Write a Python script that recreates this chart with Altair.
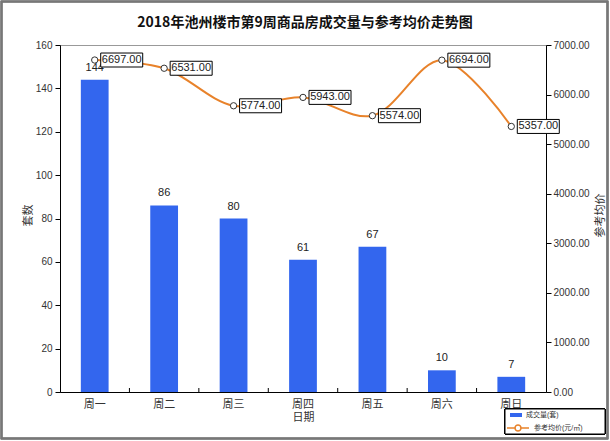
import altair as alt
import pandas as pd

days = ["周一", "周二", "周三", "周四", "周五", "周六", "周日"]
volumes = [144, 86, 80, 61, 67, 10, 7]
prices = [6697.00, 6531.00, 5774.00, 5943.00, 5574.00, 6694.00, 5357.00]
left_ticks = [0, 20, 40, 60, 80, 100, 120, 140, 160]
right_ticks = [0, 1000, 2000, 3000, 4000, 5000, 6000, 7000]
bar_name = "成交量(套)"
line_name = "参考均价(元/㎡)"
title_text = "2018年池州楼市第9周商品房成交量与参考均价走势图"

df = pd.DataFrame({
    "day": days,
    "count": volumes,
    "price": prices,
    "s1": [bar_name] * len(days),
    "s2": [line_name] * len(days),
})
df_inner = df.iloc[1:]

FONT = "Liberation Sans, Noto Sans CJK SC, sans-serif"
BLUE = "#3366EE"
ORANGE = "#E8822A"
W, H = 486, 347
STEP = W / len(days)

x_scale = alt.Scale(paddingInner=0.6, paddingOuter=0.3)
x_enc = alt.X("day:N", sort=days, scale=x_scale,
              axis=alt.Axis(title="日期", labelAngle=0, ticks=False, domainColor="black",
                            labelPadding=6, titlePadding=2, labelFontSize=11,
                            titleFontSize=11, titleFontWeight="normal",
                            labelColor="#333", titleColor="#333"))

left_axis = alt.Axis(title="套数", values=left_ticks, grid=False, domainColor="black",
                     tickColor="black", tickSize=5, labelPadding=3, labelFontSize=10,
                     labelColor="#333", titleFontSize=11, titleFontWeight="normal",
                     titleColor="#333", titleAngle=-90, titleX=-32, titleY=170,
                     titleAlign="center", titleBaseline="middle")
y_left = alt.Y("count:Q", scale=alt.Scale(domain=[0, 160]), axis=left_axis)

right_axis = alt.Axis(title="参考均价", orient="right", values=right_ticks, format=".2f",
                      grid=False, domainColor="black", tickColor="black", tickSize=5,
                      labelPadding=2, labelFontSize=10, labelColor="#333",
                      titleFontSize=11, titleFontWeight="normal", titleColor="#333",
                      titleAngle=-90, titleX=54, titleY=170, titleAlign="center",
                      titleBaseline="middle")
y_right = alt.Y("price:Q", scale=alt.Scale(domain=[0, 7000]), axis=right_axis)

base = alt.Chart(df)

bars = base.mark_bar(color=BLUE).encode(
    x=x_enc, y=y_left,
    fill=alt.Fill("s1:N", scale=alt.Scale(domain=[bar_name], range=[BLUE]),
                  legend=alt.Legend(title=None, orient="none", legendX=450, legendY=364,
                                    padding=0, symbolType="M-1,-0.33L1,-0.33L1,0.33L-1,0.33Z",
                                    symbolSize=144, symbolStrokeWidth=0, labelFontSize=7,
                                    labelFont=FONT, labelColor="#333", labelOffset=4)),
)
bar_text = base.mark_text(dy=-12, baseline="middle", fontSize=11, color="#222", font=FONT).encode(
    x=x_enc, y=y_left, text="count:Q")

inner_ticks = alt.Chart(df_inner).mark_rule(color="black", strokeWidth=1,
                                            xOffset=-0.3 * STEP).encode(
    x=alt.X("day:N", sort=days, bandPosition=0, scale=x_scale),
    y=alt.value(H - 4), y2=alt.value(H))

legend_box = base.mark_rect(fill="white", stroke="black", strokeWidth=1).encode(
    x=alt.value(445), x2=alt.value(545), y=alt.value(364), y2=alt.value(389))

outer_box = base.mark_rect(fill=None, stroke="#777", strokeWidth=1.5).encode(
    x=alt.value(-58.5), x2=alt.value(547.5), y=alt.value(-43.5), y2=alt.value(393.5))

title_mark = alt.Chart(pd.DataFrame({"t": [title_text]})).mark_text(
    fontSize=14, fontWeight="bold", font="Noto Sans CJK SC", color="#111",
    align="center", baseline="middle").encode(
    text="t:N", x=alt.value(W / 2 + 2), y=alt.value(-22))

left_group = alt.layer(outer_box, title_mark, bars, bar_text, inner_ticks, legend_box)

line = base.mark_line(strokeWidth=2, interpolate="catmull-rom").encode(
    x=x_enc, y=y_right,
    stroke=alt.Stroke("s2:N", scale=alt.Scale(domain=[line_name], range=[ORANGE]),
                      legend=alt.Legend(title=None, orient="none", legendX=446, legendY=371,
                                        padding=0,
                                        symbolType="M-1,0L-0.27,0M0.27,0L1,0M-0.27,0A0.27,0.27,0,1,1,0.27,0A0.27,0.27,0,1,1,-0.27,0",
                                        symbolSize=484, symbolStrokeWidth=1.5,
                                        symbolFillColor="white", labelFontSize=7,
                                        labelFont=FONT, labelColor="#333", labelOffset=4)),
)
boxes = base.mark_point(shape="M-1,-0.333L1,-0.333L1,0.333L-1,0.333Z", size=1764, filled=True,
                        fill="white", stroke="black", strokeWidth=1, xOffset=27,
                        opacity=1).encode(x=x_enc, y=y_right)
points = base.mark_point(shape="circle", size=40, filled=True, fill="white", stroke="#333",
                         strokeWidth=1, opacity=1).encode(x=x_enc, y=y_right)
labels = base.mark_text(xOffset=27, baseline="middle", fontSize=11, color="#222", font=FONT).encode(
    x=x_enc, y=y_right, text=alt.Text("price:Q", format=".2f"))

right_group = alt.layer(line, boxes, points, labels)

chart = alt.layer(left_group, right_group).resolve_scale(
    y="independent", fill="independent", stroke="independent"
).properties(
    width=W, height=H,
    padding={"left": 60, "top": 45, "right": 64, "bottom": 49},
    autosize=alt.AutoSizeParams(type="none"),
).configure(font=FONT, background="white").configure_view(stroke="#999", strokeWidth=1)

chart.save("out.html", embed_options={"renderer": "svg", "actions": False})
